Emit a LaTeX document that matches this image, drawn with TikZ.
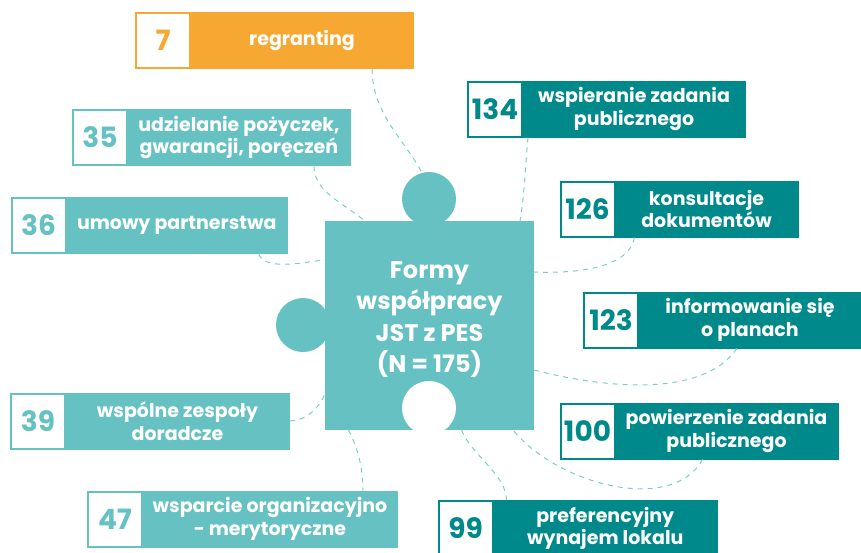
\documentclass[tikz,border=0pt]{standalone}
\usepackage{fontspec}
\setmainfont{Poppins}
\usetikzlibrary{positioning}
\definecolor{corange}{HTML}{F6A832}
\definecolor{cteal}{HTML}{66C1C3}
\definecolor{cdark}{HTML}{00898A}
\definecolor{cdash}{HTML}{7FCBCC}

\begin{document}
\begin{tikzpicture}[x=1pt, y=-1pt, node distance=0pt,
    num/.style={draw=#1, text=#1, fill=white, line width=2pt, minimum width=54pt,
                minimum height=55pt, inner sep=0pt, outer sep=0pt,
                font=\fontsize{28}{28}\selectfont\bfseries},
    lab/.style={fill=#1, text=white, minimum width=224pt, minimum height=57pt,
                inner sep=0pt, outer sep=0pt, align=center,
                font=\fontsize{19}{22.5}\selectfont\bfseries},
    link/.style={draw=cdash, line width=1pt, dash pattern=on 5pt off 5pt},
    knob/.style={circle, fill=cteal, minimum size=54pt, inner sep=0pt, outer sep=0pt}]
  \useasboundingbox (0,0) rectangle (861,552);

  % boxes on the left
  \node[num=corange] (n7) at (163,40.5) {7};
  \node[lab=corange, right=of n7] (l7) {regranting};
  \node[num=cteal] (n35) at (100,137.5) {35};
  \node[lab=cteal, right=of n35] (l35) {udzielanie pożyczek,\\gwarancji, poręczeń};
  \node[num=cteal] (n36) at (38.5,225.5) {36};
  \node[lab=cteal, right=of n36, minimum width=222.5pt] (l36) {umowy partnerstwa};
  \node[num=cteal] (n39) at (38,421) {39};
  \node[lab=cteal, right=of n39, minimum width=225pt] (l39) {wspólne zespoły\\doradcze};
  \node[num=cteal] (n47) at (115,519) {47};
  \node[lab=cteal, right=of n47, minimum width=256pt] (l47) {wsparcie organizacyjno\\- merytoryczne};

  % boxes on the right
  \node[num=cdark] (n134) at (495,109) {134};
  \node[lab=cdark, right=of n134] (l134) {wspieranie zadania\\publicznego};
  \node[num=cdark] (n126) at (587.5,209) {126};
  \node[lab=cdark, right=of n126, minimum width=184pt] (l126) {konsultacje\\dokumentów};
  \node[num=cdark] (n123) at (611,320) {123};
  \node[lab=cdark, right=of n123] (l123) {informowanie się\\o planach};
  \node[num=cdark] (n100) at (587.5,431) {100};
  \node[lab=cdark, right=of n100] (l100) {powierzenie zadania\\publicznego};
  \node[num=cdark] (n99) at (465.5,528.5) {99};
  \node[lab=cdark, right=of n99, minimum width=225.5pt] (l99) {preferencyjny\\wynajem lokalu};

  % puzzle piece
  \node[fill=cteal, minimum size=209pt, inner sep=0pt, outer sep=0pt] (piece) at (429.5,325.5) {};
  \node[knob] (knobtop) at (429,199) {};
  \node[knob] (knobleft) at (303,325) {};
  \node[knob, fill=white] (notch) at (429,408) {};
  \node[text=white, align=center, font=\fontsize{24}{31.5}\selectfont\bfseries]
    (title) at ([yshift=6pt]piece.center) {Formy\\współpracy\\JST z PES\\(N = 175)};

  % dashed links
  \draw[link] ([xshift=70pt]l7.south) .. controls +(0,45) and +(-15,-30) .. (knobtop.105);
  \draw[link] ([xshift=75pt]l35.south) .. controls +(0,25) and +(-25,-20) .. ([xshift=40pt]piece.north west);
  \draw[link] ([xshift=82pt]l36.south) .. controls +(5,15) and +(-30,5) .. ([yshift=66pt]piece.west);
  \draw[link] (l39.east) .. controls +(15,0) and +(-5,15) .. ([yshift=37pt]piece.south west);
  \draw[link] ([xshift=-81pt]piece.south) .. controls +(8,15) and +(0,-25) .. ([xshift=-35pt]l47.north east);
  \draw[link] ([xshift=6pt]l134.south west) .. controls +(-3,30) and +(5,-30) .. ([xshift=-14pt]piece.north east);
  \draw[link] ([xshift=20pt]l126.south west) .. controls +(-5,28) and +(50,2) .. ([yshift=53.5pt]piece.east);
  \draw[link] ([xshift=-13pt]l123.south) .. controls +(-35,50) and +(70,18) .. ([yshift=-44.5pt]piece.east);
  \draw[link] ([xshift=-24pt]l100.south) .. controls +(-30,55) and +(45,55) .. ([xshift=-21pt]piece.south east);
  \draw[link] ([xshift=32pt]piece.south) .. controls +(10,25) and +(0,-25) .. ([xshift=14pt]l99.north west);
\end{tikzpicture}
\end{document}
